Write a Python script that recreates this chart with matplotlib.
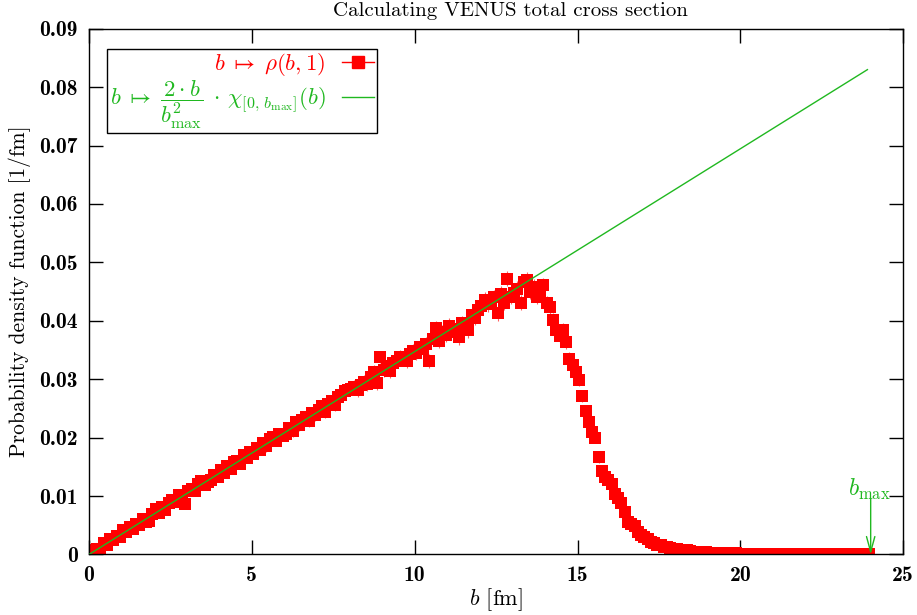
import numpy as np
import matplotlib
matplotlib.use("Agg")
import matplotlib.pyplot as plt
from matplotlib.lines import Line2D

plt.rcParams['mathtext.fontset'] = 'cm'
plt.rcParams['font.family'] = ['cmr10', 'DejaVu Serif']
plt.rcParams['axes.formatter.use_mathtext'] = True

# ---- data ----
b_values = np.arange(240) * 0.1 + 0.05
rho_values = [
    0.0008, 0.0006, 0.0010, 0.0009, 0.0020, 0.0017, 0.0027, 0.0024, 0.0032, 0.0030,
    0.0042, 0.0038, 0.0047, 0.0044, 0.0052, 0.0050, 0.0060, 0.0056, 0.0058, 0.0070,
    0.0078, 0.0071, 0.0082, 0.0076, 0.0088, 0.0093, 0.0090, 0.0101, 0.0097, 0.0086,
    0.0108, 0.0112, 0.0108, 0.0121, 0.0126, 0.0119, 0.0124, 0.0128, 0.0136, 0.0133,
    0.0144, 0.0139, 0.0152, 0.0147, 0.0158, 0.0160, 0.0155, 0.0170, 0.0165, 0.0176,
    0.0172, 0.0183, 0.0179, 0.0191, 0.0185, 0.0197, 0.0201, 0.0194, 0.0206, 0.0203,
    0.0207, 0.0217, 0.0211, 0.0226, 0.0222, 0.0231, 0.0235, 0.0229, 0.0243, 0.0238,
    0.0248, 0.0255, 0.0244, 0.0258, 0.0262, 0.0256, 0.0270, 0.0273, 0.0279, 0.0282,
    0.0284, 0.0287, 0.0281, 0.0290, 0.0296, 0.0291, 0.0303, 0.0313, 0.0293, 0.0338,
    0.0316, 0.0322, 0.0314, 0.0327, 0.0331, 0.0338, 0.0336, 0.0331, 0.0344, 0.0348,
    0.0345, 0.0355, 0.0351, 0.0360, 0.0331, 0.0368, 0.0388, 0.0366, 0.0381, 0.0375,
    0.0391, 0.0386, 0.0380, 0.0372, 0.0396, 0.0392, 0.0384, 0.0410, 0.0405, 0.0418,
    0.0425, 0.0436, 0.0428, 0.0434, 0.0440, 0.0413, 0.0446, 0.0431, 0.0472, 0.0441,
    0.0448, 0.0455, 0.0431, 0.0467, 0.0470, 0.0450, 0.0458, 0.0441, 0.0445, 0.0461,
    0.0431, 0.0424, 0.0401, 0.0384, 0.0374, 0.0384, 0.0364, 0.0335, 0.0324, 0.0313,
    0.0298, 0.0271, 0.0245, 0.0227, 0.0209, 0.0200, 0.0167, 0.0143, 0.0133, 0.0128,
    0.0121, 0.0104, 0.0097, 0.0088, 0.0073, 0.0056, 0.0052, 0.0048, 0.0039, 0.0033,
    0.0030, 0.0026, 0.0022, 0.0019, 0.0017, 0.0016, 0.0013, 0.0012, 0.0011, 0.0010,
    0.0009, 0.0008, 0.0007, 0.0007, 0.0006, 0.0005, 0.0005, 0.0004, 0.0004, 0.0004,
    0.0003, 0.0003, 0.0003, 0.0003, 0.0002, 0.0002, 0.0002, 0.0002, 0.0002, 0.0001,
    0.0001, 0.0001, 0.0001, 0.0001, 0.0001, 0.0001, 0.0001, 0.0001, 0.0001, 0.0001,
    0.0001, 0.0000, 0.0001, 0.0000, 0.0000, 0.0000, 0.0000, 0.0000, 0.0000, 0.0000,
    0.0000, 0.0000, 0.0000, 0.0000, 0.0000, 0.0000, 0.0000, 0.0000, 0.0000, 0.0000,
    0.0000, 0.0000, 0.0000, 0.0000, 0.0000, 0.0000, 0.0000, 0.0000, 0.0000, 0.0000,
]
# error bar size per 1-fm block
err_per_fm = [0.0003, 0.0005, 0.0006, 0.0007, 0.0008, 0.0009, 0.0010, 0.0011,
              0.0011, 0.0012, 0.0012, 0.0013, 0.0013, 0.0013, 0.0012, 0.0010,
              0.0006, 0.0003, 0.0002, 0.0001, 0.0001, 0.0000, 0.0000, 0.0000]
rho_err = np.repeat(err_per_fm, 10)

b_max = 24.0
line_b = [0.0, 23.9]
line_y = [2 * x / b_max**2 for x in line_b]

x_ticks = [0, 5, 10, 15, 20, 25]
x_ticklabels = ['0', '5', '10', '15', '20', '25']
y_ticks = [0, 0.01, 0.02, 0.03, 0.04, 0.05, 0.06, 0.07, 0.08, 0.09]
y_ticklabels = ['0', '0.01', '0.02', '0.03', '0.04', '0.05', '0.06', '0.07', '0.08', '0.09']

RED = '#ff0000'
GREEN = '#20b820'

fig = plt.figure(figsize=(9.17, 6.15), dpi=100)
ax = fig.add_axes([0.097, 0.0984, 0.888, 0.855])

ax.errorbar(b_values, rho_values, yerr=rho_err, fmt='s', color=RED, ms=8.6,
            mec=RED, mew=0, ecolor='#ff6060', elinewidth=0.8, capsize=0, zorder=2)
ax.plot(line_b, line_y, color=GREEN, lw=1.0, zorder=3)

ax.annotate('', xy=(b_max, 0.0), xytext=(b_max, 0.0095),
            arrowprops=dict(arrowstyle='->,head_length=1.1,head_width=0.3',
                            color=GREEN, lw=1.0, shrinkA=0, shrinkB=0), zorder=4)
ax.text(b_max - 0.05, 0.0090, r'$b_{\max}$', color=GREEN, fontsize=17,
        ha='center', va='bottom')

ax.set_xlim(0, 25)
ax.set_ylim(0, 0.09)
ax.set_xticks(x_ticks)
ax.set_xticklabels(x_ticklabels)
ax.set_yticks(y_ticks)
ax.set_yticklabels(y_ticklabels)
ax.tick_params(direction='in', length=10, width=1, top=True, right=True,
               labelsize=15.5, pad=8, colors='black')
for lab in ax.get_xticklabels() + ax.get_yticklabels():
    lab.set_fontfamily(['cmb10', 'cmr10'])
for sp in ax.spines.values():
    sp.set_linewidth(1.0)

ax.set_title('Calculating VENUS total cross section', fontsize=15, pad=9, x=0.518)
ax.set_xlabel(r'$b$ [fm]', fontsize=16, labelpad=1)
ax.set_ylabel('Probability density function [1/fm]', fontsize=15.5, labelpad=6)

h_red = Line2D([], [], color=RED, marker='s', ms=8.6, lw=1.0)
h_green = Line2D([], [], color=GREEN, lw=1.0)
leg = ax.legend([h_red, h_green],
                [r'$b\;\mapsto\;\rho(b,1)$',
                 r'$b\;\mapsto\;\dfrac{2\cdot b}{b^2_{\max}}\;\cdot\,\chi_{[0,\,b_{\max}]}(b)$'],
                loc='upper left', bbox_to_anchor=(0.022, 0.962), borderaxespad=0,
                markerfirst=False, fontsize=16.5, handlelength=1.4,
                fancybox=False, edgecolor='black', framealpha=1,
                labelspacing=0.0, borderpad=0.12, handletextpad=0.7)
leg.get_frame().set_linewidth(1.0)
leg.get_texts()[0].set_color(RED)
leg.get_texts()[1].set_color(GREEN)

fig.savefig('out.png', dpi=100)
